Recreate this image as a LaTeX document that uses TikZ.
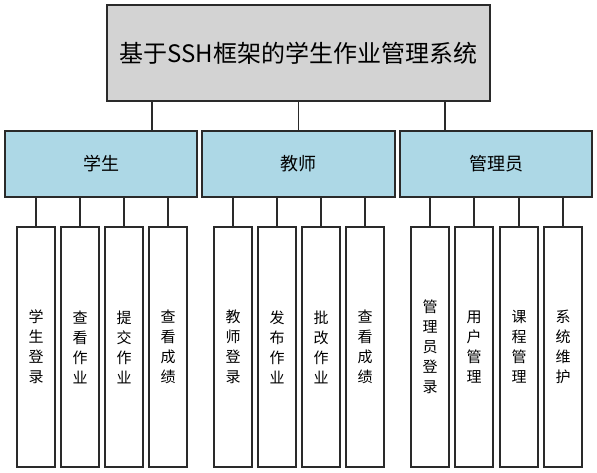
\documentclass[tikz,border=0pt]{standalone}
\usepackage{fontspec}
\setmainfont{Noto Sans CJK SC}
\definecolor{topgray}{HTML}{D3D3D3}
\definecolor{midblue}{HTML}{ADD8E6}
\definecolor{edge}{HTML}{2A2A2A}
\tikzset{
  box/.style={draw=edge, line width=1.2pt, inner sep=0pt, align=center},
  topbox/.style={box, fill=topgray, minimum width=383pt, minimum height=96pt, font=\fontsize{24}{28}\selectfont},
  midbox/.style={box, fill=midblue, minimum width=192pt, minimum height=66pt, font=\fontsize{18}{22}\selectfont},
  leafbox/.style={box, fill=white, minimum width=38pt, minimum height=240pt, font=\fontsize{15}{20}\selectfont},
  link/.style={draw=edge, line width=1.2pt}
}
\begin{document}
\begin{tikzpicture}[x=1pt,y=-1pt]
\useasboundingbox[fill=white] (0,0) rectangle (597,473);
\node[topbox] (top) at (298.5,53) {基于SSH框架的学生作业管理系统};
\node[midbox] (stu) at (101,164) {学生};
\node[midbox, minimum width=193pt] (tea) at (298.5,164) {教师};
\node[midbox] (adm) at (496,164) {管理员};
% leaves
\node[leafbox] (s1) at (36,347) {学\\生\\登\\录};
\node[leafbox] (s2) at (80,347) {查\\看\\作\\业};
\node[leafbox] (s3) at (124,347) {提\\交\\作\\业};
\node[leafbox] (s4) at (168,347) {查\\看\\成\\绩};
\node[leafbox] (t1) at (233,347) {教\\师\\登\\录};
\node[leafbox] (t2) at (277,347) {发\\布\\作\\业};
\node[leafbox] (t3) at (321,347) {批\\改\\作\\业};
\node[leafbox] (t4) at (365,347) {查\\看\\成\\绩};
\node[leafbox] (a1) at (430,347) {管\\理\\员\\登\\录};
\node[leafbox] (a2) at (474,347) {用\\户\\管\\理};
\node[leafbox] (a3) at (519,347) {课\\程\\管\\理};
\node[leafbox] (a4) at (563,347) {系\\统\\维\\护};
% top to middle
\draw[link] ([xshift=-146.5pt]top.south) -- ([xshift=-146.5pt]top.south |- stu.north);
\draw[link] (top.south) -- (tea.north);
\draw[link] ([xshift=146.5pt]top.south) -- ([xshift=146.5pt]top.south |- adm.north);
% middle to leaves
\foreach \p/\c in {stu/s1,stu/s2,stu/s3,stu/s4,tea/t1,tea/t2,tea/t3,tea/t4,adm/a1,adm/a2,adm/a3,adm/a4}
  \draw[link] (\c.north) -- (\c.north |- \p.south);
\end{tikzpicture}
\end{document}
